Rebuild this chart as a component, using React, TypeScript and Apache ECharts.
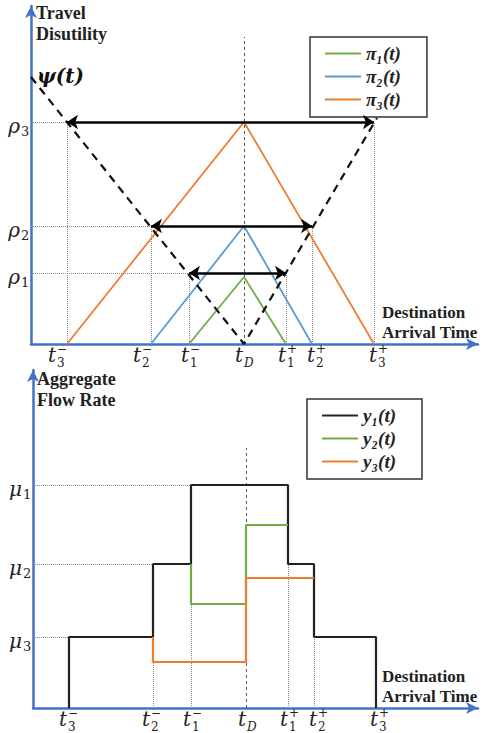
import React, { useEffect, useRef } from 'react';
import * as echarts from 'echarts';

// Time points (index): t3-, t2-, t1-, tD, t1+, t2+, t3+
const TIMES = [-177, -93, -55, 0, 42, 68, 130];
const TICK_SUB = ['3', '2', '1', 'D', '1', '2', '3'];
const TICK_SUP = ['\u2212', '\u2212', '\u2212', '', '+', '+', '+'];
// Travel disutility levels rho1..rho3 and pi peaks
const RHO = [71, 118, 222];
const RHO_SUB = ['1', '2', '3'];
const PI_PEAKS = [67, 118, 222];
const PI_NAMES = ['\u03c0\u2081(t)', '\u03c0\u2082(t)', '\u03c0\u2083(t)'];
// psi(t) dashed curve end points (left start, right end), vertex at tD
const PSI_LEFT = [-213, 267];
const PSI_RIGHT = [133, 226];
// Aggregate flow rate levels mu1..mu3
const MU = [223, 144, 71];
const MU_SUB = ['1', '2', '3'];
const Y1_LEVELS = [71, 144, 223, 144, 71]; // [t3-,t2-],[t2-,t1-],[t1-,t1+],[t1+,t2+],[t2+,t3+]
const Y2_LEVELS = [104, 183]; // [t1-,tD],[tD,t1+]
const Y3_LEVELS = [46, 130]; // [t2-,tD],[tD,t2+]
const Y_NAMES = ['y\u2081(t)', 'y\u2082(t)', 'y\u2083(t)'];
const TD_TOP = [307, 260];

const X_MIN = -213;
const X_MAX_TOP = 234;
const X_MAX_BOT = 232;
const Y_MAX = 338;

const AXIS_BLUE = '#4472C4';
const GREEN = '#70AD47';
const BLUE = '#5B9BD5';
const ORANGE = '#ED7D31';
const DOT = '#8a8a8a';
const MATH_FONT = '"DejaVu Serif"';

const TOP_SHIFT = [-11, -10, 0, -1, 0, 3, 3];
const BOT_SHIFT = [-2, -3, 0, 0, 0, 3, 2];

function stepPoints(edgeIdx: number[], levels: number[], startY: number, endY: number | null) {
  const pts: number[][] = [];
  pts.push([TIMES[edgeIdx[0]], startY]);
  levels.forEach((L, j) => {
    pts.push([TIMES[edgeIdx[j]], L]);
    pts.push([TIMES[edgeIdx[j + 1]], L]);
  });
  if (endY !== null) pts.push([TIMES[edgeIdx[edgeIdx.length - 1]], endY]);
  return pts;
}

function tickLabelSeries(gridIdx: number, shifts: number[]) {
  return {
    type: 'custom',
    xAxisIndex: gridIdx,
    yAxisIndex: gridIdx,
    clip: false,
    silent: true,
    z: 20,
    data: TIMES.map((t, i) => [t, i]),
    renderItem: (params: any, api: any) => {
      const i = api.value(1);
      const p = api.coord([api.value(0), 0]);
      const cx = p[0] + shifts[i] + 1;
      const y0 = p[1];
      const children: any[] = [
        {
          type: 'text', x: cx - 1, y: y0 + 11,
          style: { text: 't', fill: '#222', fontSize: 20, fontFamily: MATH_FONT, fontStyle: 'italic', align: 'right', verticalAlign: 'middle' },
        },
        {
          type: 'text', x: cx, y: y0 + 19,
          style: { text: TICK_SUB[i], fill: '#222', fontSize: 12, fontFamily: MATH_FONT, fontStyle: TICK_SUB[i] === 'D' ? 'italic' : 'normal', align: 'left', verticalAlign: 'middle' },
        },
      ];
      if (TICK_SUP[i]) {
        children.push({
          type: 'text', x: cx, y: y0 + 5,
          style: { text: TICK_SUP[i], fill: '#222', fontSize: 12, fontFamily: MATH_FONT, align: 'left', verticalAlign: 'middle' },
        });
      }
      return { type: 'group', children };
    },
  };
}

function levelLabelSeries(gridIdx: number, values: number[], subs: string[], sym: string) {
  return {
    type: 'custom',
    xAxisIndex: gridIdx,
    yAxisIndex: gridIdx,
    clip: false,
    silent: true,
    z: 20,
    data: values.map((v, i) => [X_MIN, v, i]),
    renderItem: (params: any, api: any) => {
      const i = api.value(2);
      const p = api.coord([api.value(0), api.value(1)]);
      const x = p[0] - 10;
      const y = p[1];
      return {
        type: 'group',
        children: [
          {
            type: 'text', x: x - 1, y: y + 4,
            style: { text: sym, fill: '#222', fontSize: 20, fontFamily: MATH_FONT, fontStyle: 'italic', align: 'right', verticalAlign: 'middle' },
          },
          {
            type: 'text', x, y: y + 9,
            style: { text: String(subs[i]), fill: '#222', fontSize: 13, fontFamily: MATH_FONT, align: 'left', verticalAlign: 'middle' },
          },
        ],
      };
    },
  };
}

function segSeries(gridIdx: number, segs: number[][][], style: any, extra: any = {}) {
  return {
    type: 'lines',
    coordinateSystem: 'cartesian2d',
    xAxisIndex: gridIdx,
    yAxisIndex: gridIdx,
    silent: true,
    data: segs.map((c) => ({ coords: c })),
    lineStyle: { opacity: 1, ...style },
    ...extra,
  };
}

function axisPair(gridIdx: number, xMax: number) {
  const line = { show: true, onZero: false, symbol: ['none', 'arrow'], symbolSize: [9, 12], lineStyle: { color: AXIS_BLUE, width: 2.5 } };
  return {
    x: {
      type: 'value', gridIndex: gridIdx, min: X_MIN, max: xMax,
      axisLine: line, axisTick: { show: false }, axisLabel: { show: false }, splitLine: { show: false },
    },
    y: {
      type: 'value', gridIndex: gridIdx, min: 0, max: Y_MAX,
      axisLine: line, axisTick: { show: false }, axisLabel: { show: false }, splitLine: { show: false },
    },
  };
}

export default function App() {
  const ref = useRef<HTMLDivElement>(null);
  useEffect(() => {
    if (!ref.current) return;
    const chart = echarts.init(ref.current, undefined, { renderer: 'svg' });
    const tm = (i: number) => TIMES[3 - i];
    const tp = (i: number) => TIMES[3 + i];
    const a0 = axisPair(0, X_MAX_TOP);
    const a1 = axisPair(1, X_MAX_BOT);
    const piColors = [GREEN, BLUE, ORANGE];
    const yColors = ['#222', GREEN, ORANGE];

    const topDotted: number[][][] = [];
    [1, 2, 3].forEach((i) => {
      const r = RHO[i - 1];
      topDotted.push([[X_MIN, r], [tm(i), r]]);
      topDotted.push([[tm(i), 0], [tm(i), r]]);
      topDotted.push([[tp(i), 0], [tp(i), r]]);
    });
    const arrows = [1, 2, 3].map((i) => [[tm(i), RHO[i - 1]], [tp(i), RHO[i - 1]]]);

    const botDotted: number[][][] = [
      [[X_MIN, MU[0]], [TIMES[2], MU[0]]],
      [[X_MIN, MU[1]], [TIMES[1], MU[1]]],
      [[X_MIN, MU[2]], [TIMES[0], MU[2]]],
      [[TIMES[1], 0], [TIMES[1], Y3_LEVELS[0]]],
      [[TIMES[2], 0], [TIMES[2], Y2_LEVELS[0]]],
      [[TIMES[4], 0], [TIMES[4], MU[1]]],
      [[TIMES[5], 0], [TIMES[5], MU[2]]],
    ];

    const y1 = stepPoints([0, 1, 2, 4, 5, 6], Y1_LEVELS, 0, 0);
    const y2 = stepPoints([2, 3, 4], Y2_LEVELS, MU[1], null);
    const y3 = stepPoints([1, 3, 5], Y3_LEVELS, MU[2], null);

    const legendText = { fontSize: 19, fontFamily: '"Liberation Serif"', fontStyle: 'italic', fontWeight: 'bold', color: '#222' };
    const legendBase = {
      orient: 'vertical', selectedMode: false,
      borderColor: '#333', borderWidth: 1.5, padding: [7, 26, 8, 14], itemWidth: 36, itemHeight: 14, itemGap: 4,
      itemStyle: { opacity: 0 }, lineStyle: { width: 2 },
      textStyle: legendText,
    };

    const option: any = {
      animation: false,
      backgroundColor: '#fff',
      grid: [
        { left: 31, top: 6, width: 447, height: 338 },
        { left: 33, top: 370, width: 445, height: 338 },
      ],
      xAxis: [a0.x, a1.x],
      yAxis: [a0.y, a1.y],
      legend: [
        { ...legendBase, data: PI_NAMES, left: 310, top: 37 },
        { ...legendBase, data: Y_NAMES, left: 307, top: 399 },
      ],
      graphic: [
        { type: 'text', left: 36, top: 2, style: { text: 'Travel\nDisutility', font: 'bold 18px "Liberation Serif"', lineHeight: 21, fill: '#222' } },
        { type: 'text', left: 37, top: 66, style: { text: '\u03c8(t)', font: 'italic bold 20px "DejaVu Serif"', fill: '#111' } },
        { type: 'text', left: 382, top: 302, style: { text: 'Destination\nArrival Time', font: 'bold 17px "Liberation Serif"', lineHeight: 20, fill: '#222' } },
        { type: 'text', left: 37, top: 368, style: { text: 'Aggregate\nFlow Rate', font: 'bold 18px "Liberation Serif"', lineHeight: 21, fill: '#222' } },
        { type: 'text', left: 382, top: 666, style: { text: 'Destination\nArrival Time', font: 'bold 17px "Liberation Serif"', lineHeight: 20, fill: '#222' } },
      ],
      series: [
        // ---- top chart ----
        segSeries(0, topDotted, { color: DOT, width: 1, type: 'dotted' }),
        segSeries(0, [[[0, 0], [0, TD_TOP[0]]]], { color: '#555', width: 1, type: [3, 3] }),
        ...[1, 2, 3].map((i) => ({
          type: 'line', name: PI_NAMES[i - 1], xAxisIndex: 0, yAxisIndex: 0, symbol: 'none', silent: true,
          data: [[tm(i), 0], [0, PI_PEAKS[i - 1]], [tp(i), 0]],
          lineStyle: { color: piColors[i - 1], width: 1.8 }, itemStyle: { color: piColors[i - 1] }, z: 3,
        })),
        {
          type: 'line', name: 'psi', xAxisIndex: 0, yAxisIndex: 0, symbol: 'none', silent: true,
          data: [PSI_LEFT, [TIMES[3], 0], PSI_RIGHT],
          lineStyle: { color: '#111', width: 2.2, type: [8, 6] }, z: 4,
        },
        segSeries(0, arrows, { color: '#000', width: 2.6 }, { symbol: ['arrow', 'arrow'], symbolSize: 11, z: 6 }),
        tickLabelSeries(0, TOP_SHIFT),
        levelLabelSeries(0, RHO, RHO_SUB, '\u03c1'),
        // ---- bottom chart ----
        segSeries(1, botDotted, { color: DOT, width: 1, type: 'dotted' }),
        segSeries(1, [[[0, 0], [0, TD_TOP[1]]]], { color: '#555', width: 1, type: [3, 3] }),
        ...[y1, y2, y3].map((pts, k) => ({
          type: 'line', name: Y_NAMES[k], xAxisIndex: 1, yAxisIndex: 1, symbol: 'none', silent: true,
          data: pts, lineStyle: { color: yColors[k], width: 2.2 }, itemStyle: { color: yColors[k] }, z: 3 + (k === 2 ? 1 : 0),
        })),
        tickLabelSeries(1, BOT_SHIFT),
        levelLabelSeries(1, MU, MU_SUB, '\u03bc'),
      ],
    };
    chart.setOption(option);
    return () => chart.dispose();
  }, []);
  return <div ref={ref} style={{ position: 'fixed', left: 0, top: 0, width: 483, height: 733 }} />;
}
